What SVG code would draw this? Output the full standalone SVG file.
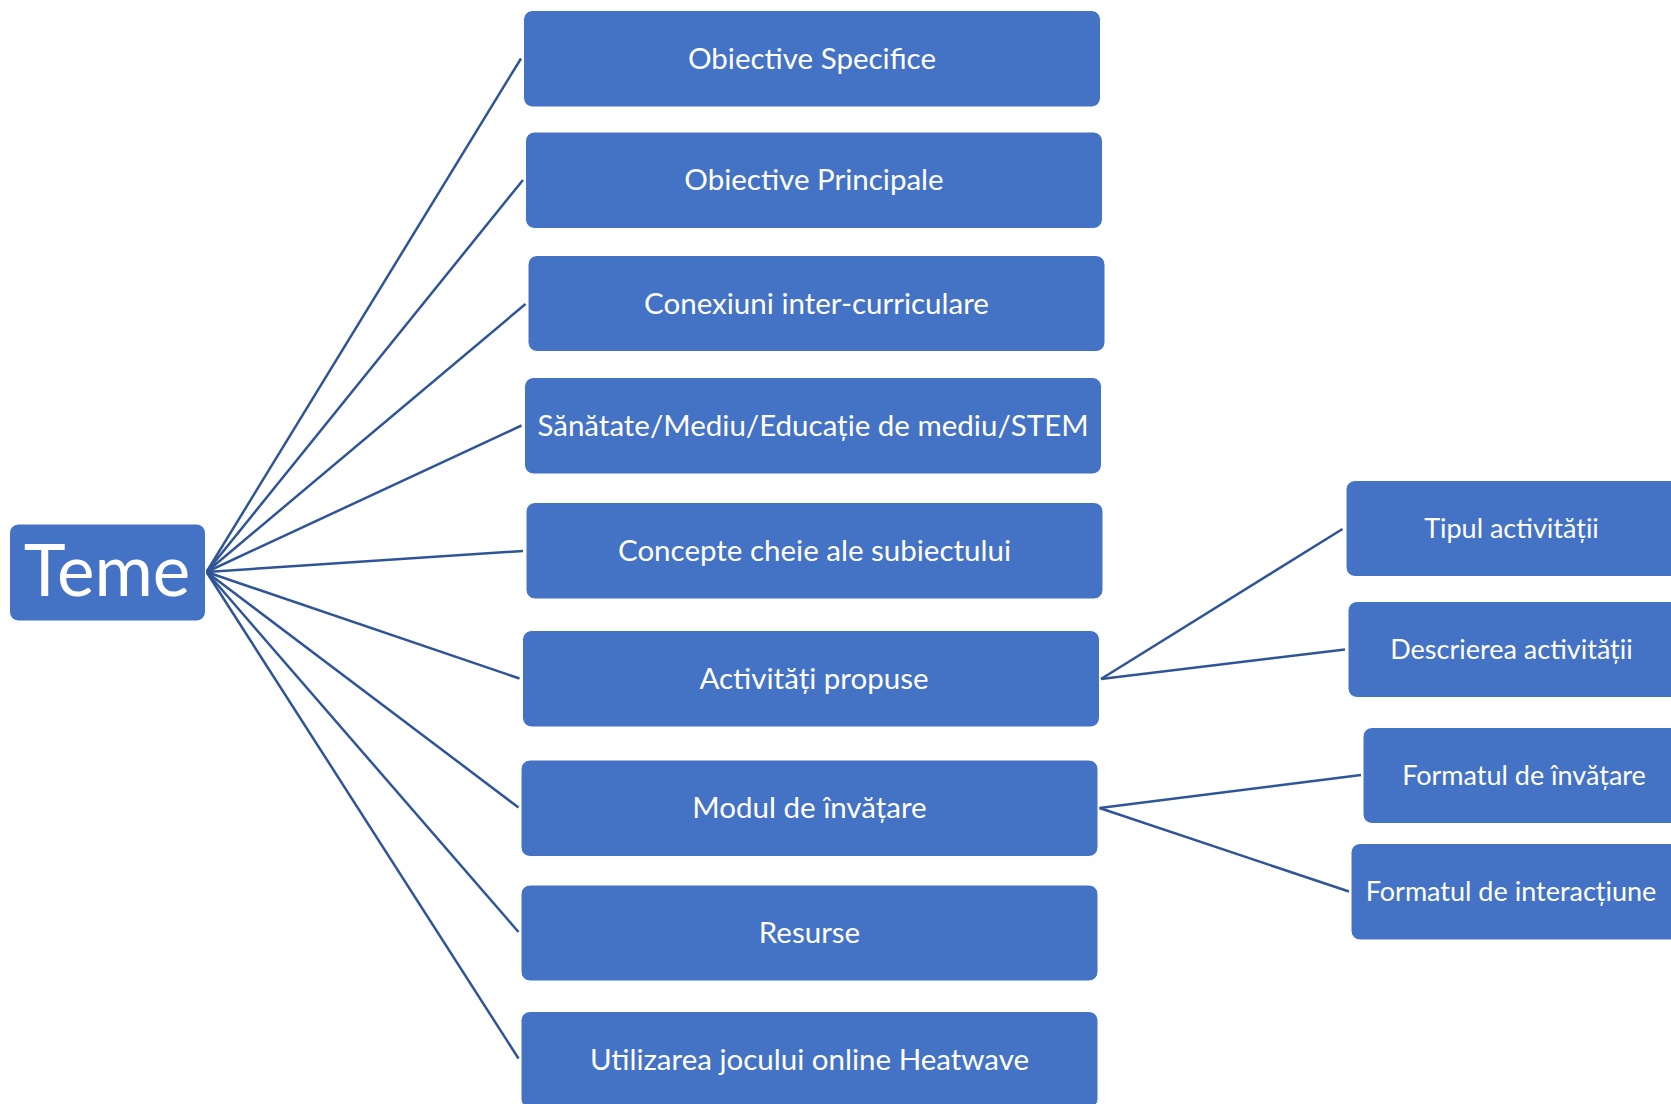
<svg xmlns="http://www.w3.org/2000/svg" width="1671" height="1104" viewBox="0 0 1671 1104">
<style>
.box{fill:#4472C4;stroke:#FFFFFF;stroke-width:1}
.t{font-family:Lato,"Open Sans","Noto Sans",sans-serif;font-size:29.5px;fill:#FFFFFF;text-anchor:middle}
.s{font-size:27px}
.big{font-size:71px}
.c{stroke:#2F5597;stroke-width:2.5;fill:none}
</style>
<rect width="1671" height="1104" fill="#FFFFFF"/>
<g id="connectors">
<line class="c" x1="206.5" y1="572" x2="521" y2="58.5"/>
<line class="c" x1="206.5" y1="572" x2="523" y2="180"/>
<line class="c" x1="206.5" y1="572" x2="525.5" y2="304"/>
<line class="c" x1="206.5" y1="572" x2="521.5" y2="425.5"/>
<line class="c" x1="206.5" y1="572" x2="523" y2="551"/>
<line class="c" x1="206.5" y1="572" x2="519.5" y2="678.5"/>
<line class="c" x1="206.5" y1="572" x2="518.5" y2="807.5"/>
<line class="c" x1="206.5" y1="572" x2="518.5" y2="932"/>
<line class="c" x1="206.5" y1="572" x2="518.5" y2="1058.5"/>
<line class="c" x1="1101" y1="679" x2="1342.5" y2="529"/>
<line class="c" x1="1101" y1="679" x2="1345" y2="649.5"/>
<line class="c" x1="1099.5" y1="808" x2="1361" y2="775"/>
<line class="c" x1="1099.5" y1="808" x2="1349" y2="891.5"/>
</g>
<g id="teme"><rect class="box" x="9.5" y="524" width="196" height="97" rx="9"/><text class="t big" x="107" y="596">Teme</text></g>
<g id="obiective-specifice"><rect class="box" x="523.5" y="10.5" width="577" height="96.5" rx="9"/><text class="t" x="812" y="68.5">Obiective Specifice</text></g>
<g id="obiective-principale"><rect class="box" x="525.5" y="132" width="577" height="96.5" rx="9"/><text class="t" x="814" y="190">Obiective Principale</text></g>
<g id="conexiuni"><rect class="box" x="528" y="255.5" width="577" height="96" rx="9"/><text class="t" x="816.5" y="313.5">Conexiuni inter-curriculare</text></g>
<g id="sanatate"><rect class="box" x="524.5" y="377.5" width="577" height="96.5" rx="9"/><text class="t" x="813" y="435.5">Sănătate/Mediu/Educație de mediu/STEM</text></g>
<g id="concepte"><rect class="box" x="526" y="502.5" width="577" height="96.5" rx="9"/><text class="t" x="814.5" y="561">Concepte cheie ale subiectului</text></g>
<g id="activitati"><rect class="box" x="522.5" y="630.5" width="577" height="96.5" rx="9"/><text class="t" x="814" y="689">Activități propuse</text></g>
<g id="modul"><rect class="box" x="521" y="760" width="577" height="96.5" rx="9"/><text class="t" x="809.5" y="818">Modul de învățare</text></g>
<g id="resurse"><rect class="box" x="521" y="885" width="577" height="96" rx="9"/><text class="t" x="809.5" y="943">Resurse</text></g>
<g id="utilizarea"><rect class="box" x="521" y="1011.5" width="577" height="96.5" rx="9"/><text class="t" x="809.5" y="1069.5">Utilizarea jocului online Heatwave</text></g>
<g id="tipul"><rect class="box" x="1346" y="480.5" width="340" height="96" rx="9"/><text class="t s" x="1511.5" y="538">Tipul activității</text></g>
<g id="descrierea"><rect class="box" x="1348" y="601.5" width="340" height="96" rx="9"/><text class="t s" x="1511.5" y="659">Descrierea activității</text></g>
<g id="formatul-invatare"><rect class="box" x="1363" y="727.5" width="340" height="96" rx="9"/><text class="t s" x="1524" y="784.5">Formatul de învățare</text></g>
<g id="formatul-interactiune"><rect class="box" x="1351" y="843.5" width="340" height="96.5" rx="9"/><text class="t s" x="1511" y="901">Formatul de interacțiune</text></g>
</svg>
